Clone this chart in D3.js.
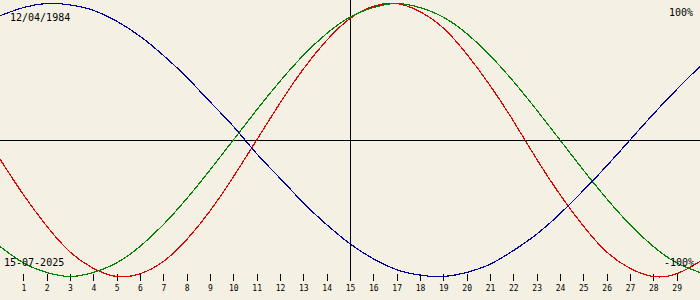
<!DOCTYPE html>
<html>
<head>
<meta charset="utf-8">
<script src="https://cdn.jsdelivr.net/npm/d3@7"></script>
<style>
  html, body { margin: 0; padding: 0; background: #f4f0e4; }
  svg { display: block; }
  text { font-family: "DejaVu Sans Mono", monospace; fill: #000; }
</style>
</head>
<body>
<div id="chart"></div>
<script>
// days along the bottom axis
const days = d3.range(0, 31);
const tickDays = d3.range(1, 30);

// biorhythm values in %, one per day (day 0..30)
const physical = [-14, -40, -63, -82, -94, -100, -98, -89, -73, -52, -27, 0, 27, 52, 73, 89, 98, 100, 94, 82, 63, 40, 14, -14, -40, -63, -82, -94, -100, -98, -89];
const emotional = [-78, -90, -97, -100, -97, -90, -78, -62, -43, -22, 0, 22, 43, 62, 78, 90, 97, 100, 97, 90, 78, 62, 43, 22, 0, -22, -43, -62, -78, -90, -97];
const intellectual = [91, 97, 100, 99, 95, 87, 76, 62, 46, 28, 10, -10, -28, -46, -62, -76, -87, -95, -99, -100, -97, -91, -81, -69, -54, -37, -19, 0, 19, 37, 54];

const birthLabel = '12/04/1984';
const dateLabel = '15-07-2025';
const todayDay = 15;

const series = [
  { name: 'physical', values: physical, color: '#e00000' },
  { name: 'emotional', values: emotional, color: '#008000' },
  { name: 'intellectual', values: intellectual, color: '#0000a0' }
];

const width = 700;
const height = 300;

const x = d3.scaleLinear().domain([0, 30]).range([0, width]);
const y = d3.scaleLinear().domain([-100, 100]).range([276.5, 3.5]);

const svg = d3.select('#chart')
  .append('svg')
  .attr('width', width)
  .attr('height', height);

svg.append('rect')
  .attr('width', width)
  .attr('height', height)
  .attr('fill', '#f4f0e4');

// zero line
svg.append('line')
  .attr('x1', 0).attr('x2', width)
  .attr('y1', y(0)).attr('y2', y(0))
  .attr('stroke', '#000')
  .attr('shape-rendering', 'crispEdges');

// today marker
svg.append('line')
  .attr('x1', Math.round(x(todayDay)) + 0.5).attr('x2', Math.round(x(todayDay)) + 0.5)
  .attr('y1', 0).attr('y2', 281)
  .attr('stroke', '#000')
  .attr('shape-rendering', 'crispEdges');

// day ticks
const axis = d3.axisBottom(x)
  .tickValues(tickDays)
  .tickSize(7)
  .tickPadding(4)
  .tickFormat(d3.format('d'));

const axisG = svg.append('g')
  .attr('transform', 'translate(0,274)')
  .call(axis);
axisG.select('.domain').remove();
axisG.selectAll('line').attr('shape-rendering', 'crispEdges');
axisG.selectAll('text')
  .style('font-family', '"DejaVu Sans Mono", monospace')
  .style('font-size', '8px');

// curves
const line = d3.line()
  .x((d, i) => x(days[i]))
  .y(d => y(d))
  .curve(d3.curveNatural);

svg.selectAll('.curve')
  .data(series)
  .enter()
  .append('path')
  .attr('class', 'curve')
  .attr('d', d => line(d.values))
  .attr('fill', 'none')
  .attr('stroke', d => d.color)
  .attr('stroke-width', 1.2)
  .attr('shape-rendering', 'crispEdges');

// labels
svg.append('text')
  .attr('x', 10).attr('y', 21)
  .style('font-size', '10px')
  .text(birthLabel);

svg.append('text')
  .attr('x', 693).attr('y', 16)
  .attr('text-anchor', 'end')
  .style('font-size', '10px')
  .text('100%');

svg.append('text')
  .attr('x', 4).attr('y', 266)
  .style('font-size', '10px')
  .text(dateLabel);

svg.append('text')
  .attr('x', 694).attr('y', 266)
  .attr('text-anchor', 'end')
  .style('font-size', '10px')
  .text('-100%');
</script>
</body>
</html>
